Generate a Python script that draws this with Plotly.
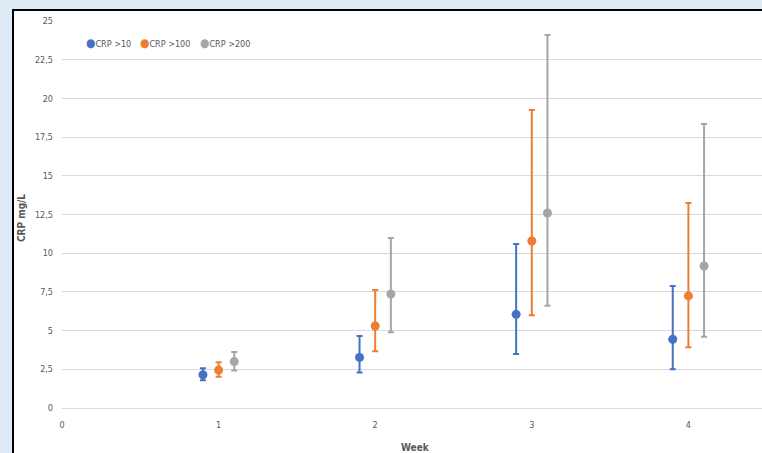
import plotly.graph_objects as go

weeks = [1, 2, 3, 4]
series_names = ["CRP >10", "CRP >100", "CRP >200"]
offsets = [-0.1, 0.0, 0.1]
colors = ["#4472C4", "#ED7D31", "#A5A5A5"]

crp10_mean = [2.15, 3.27, 6.05, 4.44]
crp10_upper = [2.56, 4.65, 10.6, 7.88]
crp10_lower = [1.8, 2.3, 3.49, 2.5]

crp100_mean = [2.45, 5.3, 10.79, 7.24]
crp100_upper = [2.95, 7.62, 19.25, 13.24]
crp100_lower = [2.02, 3.66, 5.99, 3.92]

crp200_mean = [3.0, 7.36, 12.6, 9.17]
crp200_upper = [3.62, 10.98, 24.1, 18.35]
crp200_lower = [2.43, 4.89, 6.61, 4.6]

y_ticks = [0, 2.5, 5, 7.5, 10, 12.5, 15, 17.5, 20, 22.5, 25]
y_tick_labels = ["0", "2,5", "5", "7,5", "10", "12,5", "15", "17,5", "20", "22,5", "25"]
x_ticks = [0, 1, 2, 3, 4]

means = [crp10_mean, crp100_mean, crp200_mean]
uppers = [crp10_upper, crp100_upper, crp200_upper]
lowers = [crp10_lower, crp100_lower, crp200_lower]

FONT = "DejaVu Sans Condensed, Liberation Sans Narrow, Liberation Sans, sans-serif"
TXT = "#595959"

fig = go.Figure()
for name, off, col, m, u, lo in zip(series_names, offsets, colors, means, uppers, lowers):
    fig.add_trace(go.Scatter(
        x=[w + off for w in weeks], y=m, mode="markers", name=name,
        marker=dict(color=col, size=9),
        error_y=dict(type="data", symmetric=False,
                     array=[a - b for a, b in zip(u, m)],
                     arrayminus=[b - c for b, c in zip(m, lo)],
                     color=col, thickness=2, width=3),
    ))

# frame
fig.add_shape(type="rect", xref="paper", yref="paper",
              x0=(13 - 62) / 700, x1=1.2, y0=-0.3, y1=(408 - 10) / 387,
              line=dict(color="black", width=2), fillcolor="white", layer="below")

# legend (as text annotations)
leg_x = [89, 143, 203]
for name, col, px in zip(series_names, colors, leg_x):
    fig.add_annotation(xref="paper", yref="paper",
                       x=(px - 5 - 62) / 700, y=(408 - 43) / 387,
                       xanchor="left", yanchor="middle", showarrow=False,
                       text=f'<span style="color:{col};font-size:12px">●</span>{name}',
                       font=dict(family=FONT, size=9, color=TXT))

# axis titles
fig.add_annotation(xref="paper", yref="paper", x=(22 - 62) / 700, y=(408 - 218) / 387,
                   textangle=-90, showarrow=False, xanchor="center", yanchor="middle",
                   text="<b>CRP mg/L</b>", font=dict(family=FONT, size=10, color=TXT))
fig.add_annotation(xref="paper", yref="paper", x=(415 - 62) / 700, y=(408 - 447) / 387,
                   showarrow=False, xanchor="center", yanchor="middle",
                   text="<b>Week</b>", font=dict(family=FONT, size=10, color=TXT))

fig.update_layout(
    width=762, height=453,
    margin=dict(l=62, r=0, t=21, b=45, autoexpand=False),
    paper_bgcolor="#DEEAF6", plot_bgcolor="white",
    font=dict(family=FONT, size=9, color=TXT),
    showlegend=False,
    xaxis=dict(range=[0, 4.47], tickmode="array", tickvals=x_ticks, automargin=False,
               showgrid=False, zeroline=False, showline=True, linecolor="#D9D9D9",
               linewidth=1, ticks="", ticklabelstandoff=8, tickfont=dict(size=9, color=TXT)),
    yaxis=dict(range=[0, 25], tickmode="array", tickvals=y_ticks, ticktext=y_tick_labels,
               automargin=False,
               showgrid=True, gridcolor="#D9D9D9", gridwidth=1, zeroline=False,
               ticks="", ticklabelstandoff=8, tickfont=dict(size=9, color=TXT)),
)

fig.write_html("out.html", config={"displayModeBar": False},
               post_script="document.body.style.margin='0';document.body.style.overflow='hidden';")
